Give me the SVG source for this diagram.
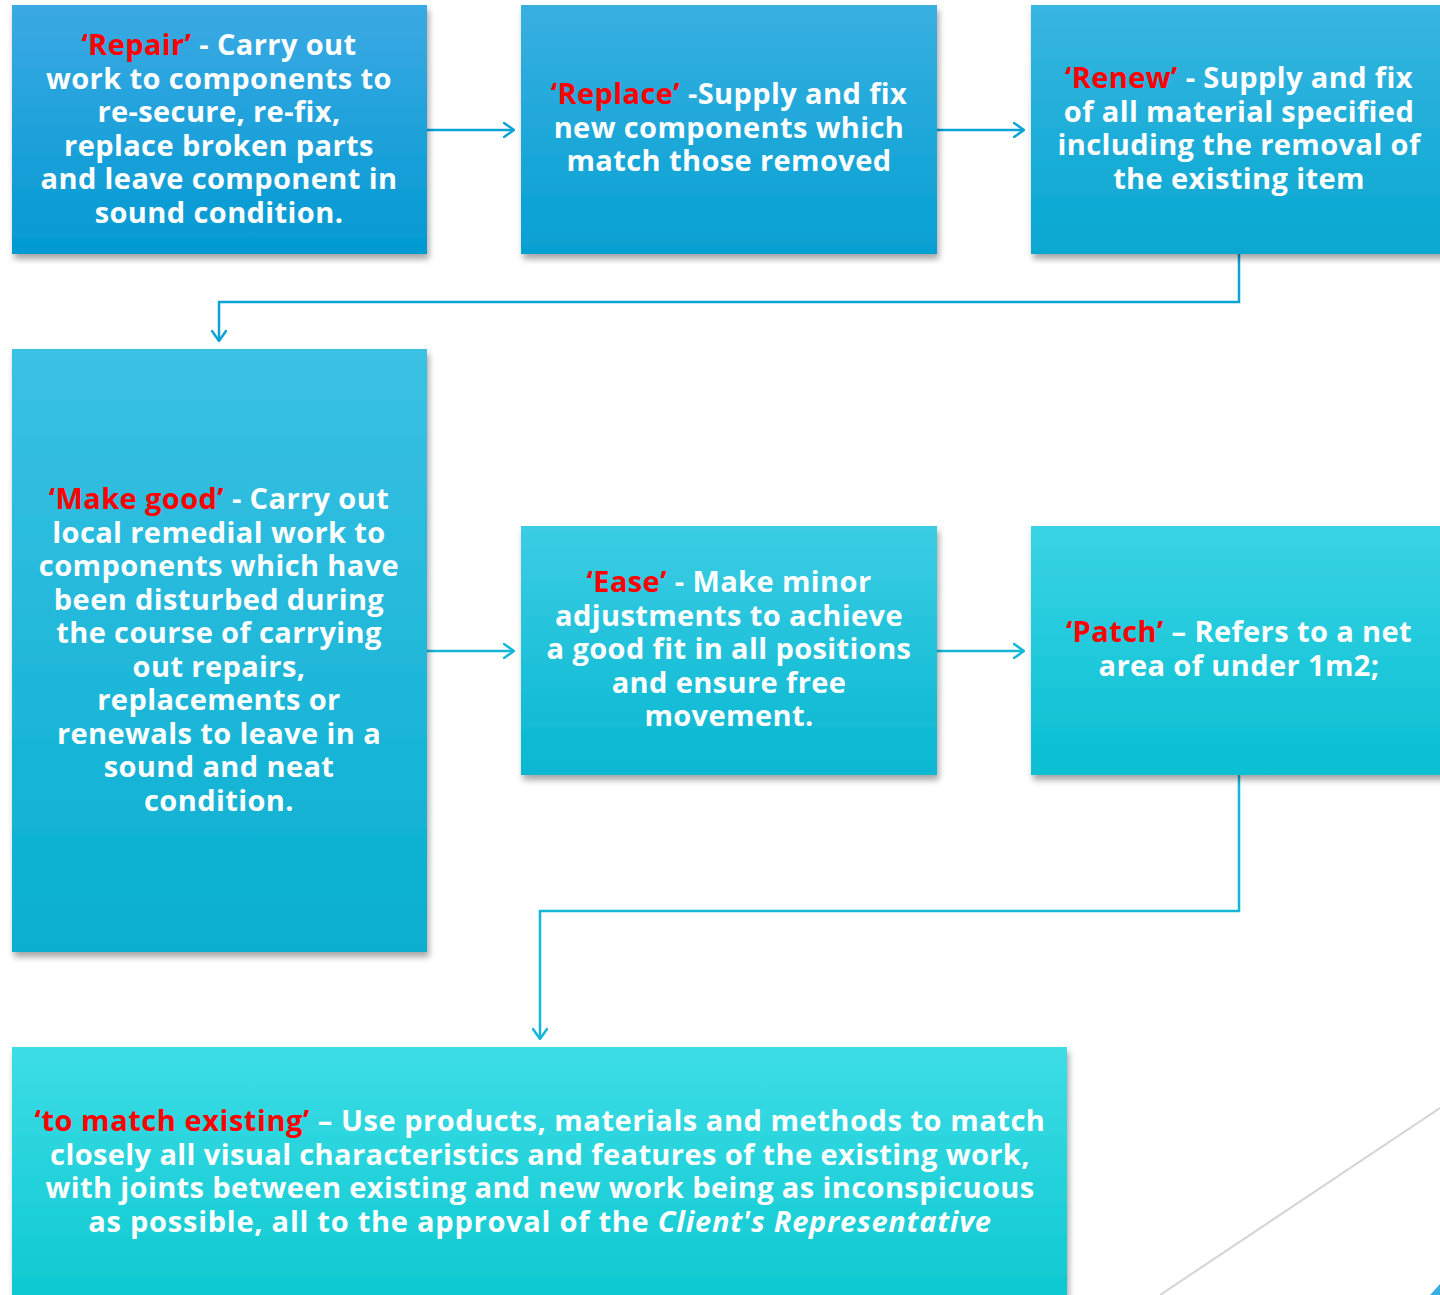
<svg xmlns="http://www.w3.org/2000/svg" width="1440" height="1295" viewBox="0 0 1440 1295">
<defs>
<linearGradient id="g1" x1="0" y1="0" x2="0" y2="1"><stop offset="0" stop-color="#3ba9e3"/><stop offset="1" stop-color="#039ad2"/></linearGradient>
<linearGradient id="g2" x1="0" y1="0" x2="0" y2="1"><stop offset="0" stop-color="#39afe1"/><stop offset="1" stop-color="#05a1d2"/></linearGradient>
<linearGradient id="g3" x1="0" y1="0" x2="0" y2="1"><stop offset="0" stop-color="#38b5e1"/><stop offset="1" stop-color="#06a8d1"/></linearGradient>
<linearGradient id="g4" x1="0" y1="0" x2="0" y2="1"><stop offset="0" stop-color="#3bc1e4"/><stop offset="1" stop-color="#07afd0"/></linearGradient>
<linearGradient id="g5" x1="0" y1="0" x2="0" y2="1"><stop offset="0" stop-color="#3bcde4"/><stop offset="1" stop-color="#08b7d1"/></linearGradient>
<linearGradient id="g6" x1="0" y1="0" x2="0" y2="1"><stop offset="0" stop-color="#3ad4e4"/><stop offset="1" stop-color="#08bfd2"/></linearGradient>
<linearGradient id="g7" x1="0" y1="0" x2="0" y2="1"><stop offset="0" stop-color="#3ddde6"/><stop offset="1" stop-color="#0cc8d0"/></linearGradient>
<filter id="sh" x="-5%" y="-5%" width="115%" height="120%"><feDropShadow dx="2" dy="5" stdDeviation="3" flood-color="#000" flood-opacity="0.35"/></filter>
<marker id="ah1" viewBox="0 0 12 16" refX="11" refY="8" markerWidth="12" markerHeight="16" markerUnits="userSpaceOnUse" orient="auto"><path d="M1,1 L11,8 L1,15" fill="none" stroke="#0ba3d6" stroke-width="2.5" stroke-linecap="round"/></marker>
<marker id="ah2" viewBox="0 0 12 16" refX="11" refY="8" markerWidth="12" markerHeight="16" markerUnits="userSpaceOnUse" orient="auto"><path d="M1,1 L11,8 L1,15" fill="none" stroke="#15b7d8" stroke-width="2.5" stroke-linecap="round"/></marker>
</defs>
<style>
.t{font-family:"Open Sans","Liberation Sans",sans-serif;font-weight:700;font-size:29px;letter-spacing:0.4px;fill:#fff;text-anchor:middle}
.r{fill:#ff0000}
.c1{fill:none;stroke:#0ba3d6;stroke-width:2.5}
.c2{fill:none;stroke:#15b7d8;stroke-width:2.5}
</style>
<rect width="1440" height="1295" fill="#fff"/>
<line x1="1160" y1="1295" x2="1440" y2="1108" stroke="#d4d4d4" stroke-width="2"/>
<polygon points="1440,1284 1440,1295 1430,1295" fill="#3aaee0"/>
<g id="connectors">
<path class="c1" d="M427,130 H514" marker-end="url(#ah1)"/>
<path class="c1" d="M937,130 H1024" marker-end="url(#ah1)"/>
<path class="c1" d="M1239,254 V302 H219 V341" marker-end="url(#ah1)"/>
<path class="c2" d="M427,651 H514" marker-end="url(#ah2)"/>
<path class="c2" d="M937,651 H1024" marker-end="url(#ah2)"/>
<path class="c2" d="M1239,775 V911 H540 V1039" marker-end="url(#ah2)"/>
</g>
<g id="repair">
<rect x="12" y="5" width="415" height="249" fill="url(#g1)" filter="url(#sh)"/>
<text class="t" x="219" y="55"><tspan class="r">‘Repair’</tspan><tspan> - Carry out</tspan></text>
<text class="t" x="219" y="88.5">work to components to</text>
<text class="t" x="219" y="122">re-secure, re-fix,</text>
<text class="t" x="219" y="155.5">replace broken parts</text>
<text class="t" x="219" y="189">and leave component in</text>
<text class="t" x="219" y="222.5">sound condition.</text>
</g>
<g id="replace">
<rect x="521" y="5" width="416" height="249" fill="url(#g2)" filter="url(#sh)"/>
<text class="t" x="729" y="104"><tspan class="r">‘Replace’</tspan><tspan> -Supply and fix</tspan></text>
<text class="t" x="729" y="137.5">new components which</text>
<text class="t" x="729" y="171">match those removed</text>
</g>
<g id="renew">
<rect x="1031" y="5" width="416" height="249" fill="url(#g3)" filter="url(#sh)"/>
<text class="t" x="1239" y="88"><tspan class="r">‘Renew’</tspan><tspan> - Supply and fix</tspan></text>
<text class="t" x="1239" y="121.5">of all material specified</text>
<text class="t" x="1239" y="155">including the removal of</text>
<text class="t" x="1239" y="188.5">the existing item</text>
</g>
<g id="make-good">
<rect x="12" y="349" width="415" height="603" fill="url(#g4)" filter="url(#sh)"/>
<text class="t" x="219" y="509"><tspan class="r">‘Make good’</tspan><tspan> - Carry out</tspan></text>
<text class="t" x="219" y="542.5">local remedial work to</text>
<text class="t" x="219" y="576">components which have</text>
<text class="t" x="219" y="609.5">been disturbed during</text>
<text class="t" x="219" y="643">the course of carrying</text>
<text class="t" x="219" y="676.5">out repairs,</text>
<text class="t" x="219" y="710">replacements or</text>
<text class="t" x="219" y="743.5">renewals to leave in a</text>
<text class="t" x="219" y="777">sound and neat</text>
<text class="t" x="219" y="810.5">condition.</text>
</g>
<g id="ease">
<rect x="521" y="526" width="416" height="249" fill="url(#g5)" filter="url(#sh)"/>
<text class="t" x="729" y="592"><tspan class="r">‘Ease’</tspan><tspan> - Make minor</tspan></text>
<text class="t" x="729" y="625.5">adjustments to achieve</text>
<text class="t" x="729" y="659">a good fit in all positions</text>
<text class="t" x="729" y="692.5">and ensure free</text>
<text class="t" x="729" y="726">movement.</text>
</g>
<g id="patch">
<rect x="1031" y="526" width="416" height="249" fill="url(#g6)" filter="url(#sh)"/>
<text class="t" x="1239" y="642"><tspan class="r">‘Patch’</tspan><tspan> – Refers to a net</tspan></text>
<text class="t" x="1239" y="675.5">area of under 1m2;</text>
</g>
<g id="to-match-existing">
<rect x="12" y="1047" width="1055" height="260" fill="url(#g7)" filter="url(#sh)"/>
<text class="t" x="540" y="1131" style="letter-spacing:0.55px"><tspan class="r">‘to match existing’</tspan><tspan> – Use products, materials and methods to match</tspan></text>
<text class="t" x="540" y="1164.5">closely all visual characteristics and features of the existing work,</text>
<text class="t" x="540" y="1198">with joints between existing and new work being as inconspicuous</text>
<text class="t" x="540" y="1231.5" style="letter-spacing:0.75px"><tspan>as possible, all to the approval of the </tspan><tspan font-style="italic">Client's Representative</tspan></text>
</g>
</svg>
